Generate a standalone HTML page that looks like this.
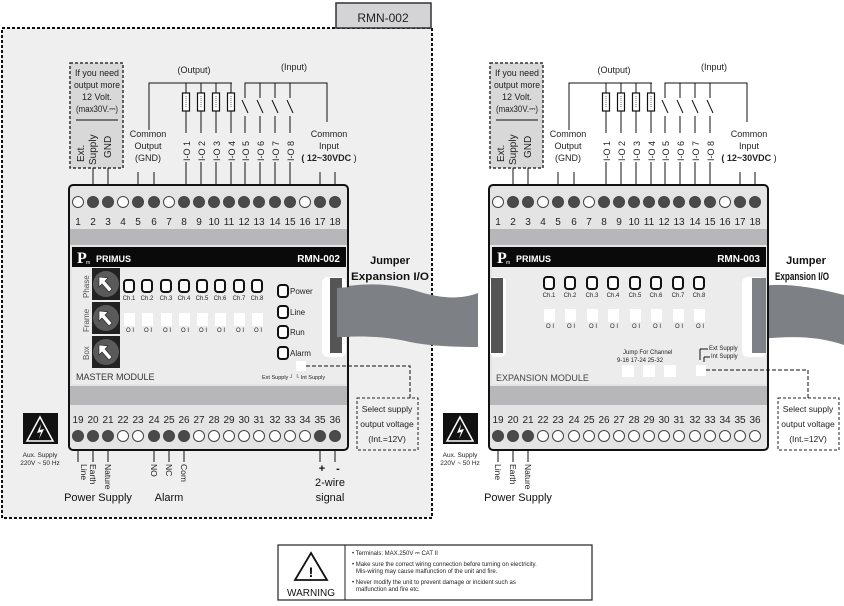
<!DOCTYPE html>
<html><head><meta charset="utf-8"><style>
html,body{margin:0;padding:0;background:#fff;}
svg{display:block;font-family:"Liberation Sans",Arial,sans-serif;}
</style></head><body>
<svg width="844" height="606" viewBox="0 0 844 606" xmlns="http://www.w3.org/2000/svg">
<defs>
<g id="knob"><rect x="0" y="0" width="28" height="32" fill="#222"/><circle cx="14" cy="16" r="13" fill="#5a5a5a"/><path d="M7 9 L7 19 L10 16 L17 24 L20 21 L13 13 L16 10 Z" fill="#fff" stroke="#222" stroke-width="0.6"/></g>
<g id="led"><rect x="-5" y="-6" width="10" height="12" rx="3" fill="#fff" stroke="#111" stroke-width="2"/></g>
<g id="sw"><rect x="-5" y="0" width="11" height="13" fill="#fff"/></g>
<g id="res"><rect x="-3.5" y="0" width="7" height="18" fill="#fff" stroke="#111" stroke-width="1.2"/><line x1="0" y1="3" x2="0" y2="15" stroke="#666" stroke-width="1" stroke-dasharray="1,1"/></g>
</defs>

<rect x="2" y="28" width="430" height="490" fill="#efeff0" stroke="#111" stroke-width="2" stroke-dasharray="3,2"/>
<rect x="336" y="3" width="95" height="25" fill="#d4d4d6" stroke="#333" stroke-width="1.5"/>
<text x="383" y="22" font-size="12" text-anchor="middle" fill="#222">RMN-002</text>

<path d="M337 288 C360 283 390 282 420 292 C440 298 460 300 478 293 L478 347 C455 347 430 346 410 342 C385 336 360 336 337 337 Z" fill="#7d8084"/>
<path d="M752 288 C775 282 805 285 844 295 L844 345 C815 335 785 336 752 340 Z" fill="#7d8084"/>

<g font-weight="bold" font-size="11" text-anchor="middle" fill="#111">
<text x="390" y="264">Jumper</text><text x="390" y="280" textLength="78" lengthAdjust="spacingAndGlyphs">Expansion I/O</text>
<text x="806" y="264">Jumper</text><text x="802" y="280" textLength="54" lengthAdjust="spacingAndGlyphs">Expansion I/O</text>
</g>

<g id="modL">
<rect x="70" y="63" width="53" height="105" fill="#d8d8d8" stroke="#333" stroke-width="1.5" stroke-dasharray="3,2"/>
<g font-size="9" text-anchor="middle" fill="#222" lengthAdjust="spacingAndGlyphs"><text x="97" y="76" textLength="44" lengthAdjust="spacingAndGlyphs">If you need</text><text x="97" y="88" textLength="46" lengthAdjust="spacingAndGlyphs">output more</text><text x="97" y="100">12 Volt.</text><text x="97" y="112" textLength="42" lengthAdjust="spacingAndGlyphs">(max30V.⎓)</text></g>
<line x1="76" y1="120" x2="118" y2="120" stroke="#111"/>
<g font-size="10" fill="#222"><text transform="translate(84,162) rotate(-90)">Ext.</text><text transform="translate(96,165) rotate(-90)">Supply</text><text transform="translate(111,158) rotate(-90)">GND</text></g>
<g stroke="#111" stroke-width="1" fill="none">
<path d="M149 130 V83 H232"/><path d="M245 98 V83 H327 V122"/>
<line x1="93" y1="168" x2="93" y2="185"/><line x1="108" y1="168" x2="108" y2="185"/>
<line x1="138" y1="172" x2="138" y2="185"/><line x1="154" y1="172" x2="154" y2="185"/>
<line x1="320" y1="172" x2="320" y2="185"/><line x1="335" y1="172" x2="335" y2="185"/>
<path d="M186 83V93 M186 111V133 M201 83V93 M201 111V133 M216 83V93 M216 111V133 M231 83V93 M231 111V133"/>
<path d="M260 83V98 M275 83V98 M290 83V98"/>
<path d="M242 100 L248 113 M257 100 L263 113 M272 100 L278 113 M287 100 L293 113"/>
<path d="M245 116V133 M260 116V133 M275 116V133 M290 116V133"/>
<path d="M186 162V185 M201 162V185 M216 162V185 M231 162V185 M245 162V185 M260 162V185 M275 162V185 M290 162V185"/>
</g>
<use href="#res" x="186" y="93"/><use href="#res" x="201" y="93"/><use href="#res" x="216" y="93"/><use href="#res" x="231" y="93"/>
<g font-size="9" fill="#222" text-anchor="middle"><text x="194" y="73">(Output)</text><text x="294" y="70">(Input)</text>
<text x="148" y="137">Common</text><text x="148" y="149">Output</text><text x="148" y="161">(GND)</text>
<text x="329" y="137">Common</text><text x="329" y="149">Input</text><text x="329" y="161"><tspan font-weight="bold">( 12~30VDC</tspan> )</text></g>
<g font-size="9" fill="#222">
<text transform="translate(190,161) rotate(-90)">I-O 1</text><text transform="translate(205,161) rotate(-90)">I-O 2</text><text transform="translate(220,161) rotate(-90)">I-O 3</text><text transform="translate(235,161) rotate(-90)">I-O 4</text>
<text transform="translate(249,161) rotate(-90)">I-O 5</text><text transform="translate(264,161) rotate(-90)">I-O 6</text><text transform="translate(279,161) rotate(-90)">I-O 7</text><text transform="translate(294,161) rotate(-90)">I-O 8</text></g>
</g>

<rect x="69" y="185" width="279" height="265" rx="4" fill="#e4e4e4" stroke="#111" stroke-width="2"/>
<rect x="70" y="229" width="277" height="16" fill="#b7b7b9"/>
<rect x="70" y="386" width="277" height="19" fill="#b7b7b9"/>
<rect x="72" y="247" width="274" height="20" fill="#0a0a0a"/>
<rect x="72" y="267" width="274" height="117" fill="#ececed"/>
<text x="77" y="263" font-family="Liberation Serif,serif" font-size="16" fill="#fff" font-weight="bold">P</text><text x="86" y="264" font-size="5" fill="#fff">m</text>
<text x="96" y="262" font-size="9" fill="#fff" font-weight="bold">PRIMUS</text>
<text x="340" y="262" font-size="10" fill="#fff" font-weight="bold" text-anchor="end">RMN-002</text>

<rect x="489" y="185" width="279" height="265" rx="4" fill="#e4e4e4" stroke="#111" stroke-width="2"/>
<rect x="490" y="229" width="277" height="16" fill="#b7b7b9"/>
<rect x="490" y="386" width="277" height="19" fill="#b7b7b9"/>
<rect x="492" y="247" width="274" height="20" fill="#0a0a0a"/>
<rect x="492" y="267" width="274" height="117" fill="#ececed"/>
<text x="497" y="263" font-family="Liberation Serif,serif" font-size="16" fill="#fff" font-weight="bold">P</text><text x="506" y="264" font-size="5" fill="#fff">m</text>
<text x="516" y="262" font-size="9" fill="#fff" font-weight="bold">PRIMUS</text>
<text x="760" y="262" font-size="10" fill="#fff" font-weight="bold" text-anchor="end">RMN-003</text>

<use href="#modL" x="420" y="0"/>

<rect x="322" y="277" width="24" height="80" rx="6" fill="#fff"/><rect x="330" y="278" width="12" height="75" fill="#555"/>
<rect x="490" y="277" width="16" height="80" rx="5" fill="#fff"/><rect x="491" y="278" width="12" height="75" fill="#555"/>
<rect x="742" y="277" width="24" height="80" rx="6" fill="#fff"/><rect x="752" y="278" width="14" height="75" fill="#7d8084"/>
<path d="M337 288 L350 287 L350 337 L337 337 Z" fill="#7d8084"/>

<g stroke="#444" stroke-width="1" fill="#4a4a4a">
<g id="topT">
<circle cx="78" cy="202" r="5.5" fill="#fff"/><circle cx="93" cy="202" r="5.5"/><circle cx="108" cy="202" r="5.5"/><circle cx="123" cy="202" r="5.5" fill="#fff"/><circle cx="138" cy="202" r="5.5"/><circle cx="154" cy="202" r="5.5"/><circle cx="169" cy="202" r="5.5" fill="#fff"/><circle cx="184" cy="202" r="5.5"/><circle cx="199" cy="202" r="5.5"/><circle cx="214" cy="202" r="5.5"/><circle cx="229" cy="202" r="5.5"/><circle cx="244" cy="202" r="5.5"/><circle cx="259" cy="202" r="5.5"/><circle cx="275" cy="202" r="5.5"/><circle cx="290" cy="202" r="5.5"/><circle cx="305" cy="202" r="5.5" fill="#fff"/><circle cx="320" cy="202" r="5.5"/><circle cx="335" cy="202" r="5.5"/>
</g>
<use href="#topT" x="420"/>
<circle cx="78" cy="436" r="5.5"/><circle cx="93" cy="436" r="5.5"/><circle cx="108" cy="436" r="5.5"/><circle cx="123" cy="436" r="5.5" fill="#fff"/><circle cx="138" cy="436" r="5.5" fill="#fff"/><circle cx="154" cy="436" r="5.5"/><circle cx="169" cy="436" r="5.5"/><circle cx="184" cy="436" r="5.5"/><circle cx="199" cy="436" r="5.5" fill="#fff"/><circle cx="214" cy="436" r="5.5" fill="#fff"/><circle cx="229" cy="436" r="5.5" fill="#fff"/><circle cx="244" cy="436" r="5.5" fill="#fff"/><circle cx="259" cy="436" r="5.5" fill="#fff"/><circle cx="275" cy="436" r="5.5" fill="#fff"/><circle cx="290" cy="436" r="5.5" fill="#fff"/><circle cx="305" cy="436" r="5.5" fill="#fff"/><circle cx="320" cy="436" r="5.5"/><circle cx="335" cy="436" r="5.5"/>
<circle cx="498" cy="436" r="5.5"/><circle cx="513" cy="436" r="5.5"/><circle cx="528" cy="436" r="5.5"/>
<g fill="#fff"><circle cx="543" cy="436" r="5.5"/><circle cx="558" cy="436" r="5.5"/><circle cx="574" cy="436" r="5.5"/><circle cx="589" cy="436" r="5.5"/><circle cx="604" cy="436" r="5.5"/><circle cx="619" cy="436" r="5.5"/><circle cx="634" cy="436" r="5.5"/><circle cx="649" cy="436" r="5.5"/><circle cx="664" cy="436" r="5.5"/><circle cx="679" cy="436" r="5.5"/><circle cx="695" cy="436" r="5.5"/><circle cx="710" cy="436" r="5.5"/><circle cx="725" cy="436" r="5.5"/><circle cx="740" cy="436" r="5.5"/><circle cx="755" cy="436" r="5.5"/></g>
</g>
<g font-size="10" fill="#222" text-anchor="middle">
<text x="78" y="225">1</text><text x="93" y="225">2</text><text x="108" y="225">3</text><text x="123" y="225">4</text><text x="138" y="225">5</text><text x="154" y="225">6</text><text x="169" y="225">7</text><text x="184" y="225">8</text><text x="199" y="225">9</text><text x="214" y="225">10</text><text x="229" y="225">11</text><text x="244" y="225">12</text><text x="259" y="225">13</text><text x="275" y="225">14</text><text x="290" y="225">15</text><text x="305" y="225">16</text><text x="320" y="225">17</text><text x="335" y="225">18</text>
<text x="78" y="423">19</text><text x="93" y="423">20</text><text x="108" y="423">21</text><text x="123" y="423">22</text><text x="138" y="423">23</text><text x="154" y="423">24</text><text x="169" y="423">25</text><text x="184" y="423">26</text><text x="199" y="423">27</text><text x="214" y="423">28</text><text x="229" y="423">29</text><text x="244" y="423">30</text><text x="259" y="423">31</text><text x="275" y="423">32</text><text x="290" y="423">33</text><text x="305" y="423">34</text><text x="320" y="423">35</text><text x="335" y="423">36</text>
<text x="498" y="225">1</text><text x="513" y="225">2</text><text x="528" y="225">3</text><text x="543" y="225">4</text><text x="558" y="225">5</text><text x="574" y="225">6</text><text x="589" y="225">7</text><text x="604" y="225">8</text><text x="619" y="225">9</text><text x="634" y="225">10</text><text x="649" y="225">11</text><text x="664" y="225">12</text><text x="679" y="225">13</text><text x="695" y="225">14</text><text x="710" y="225">15</text><text x="725" y="225">16</text><text x="740" y="225">17</text><text x="755" y="225">18</text>
<text x="498" y="423">19</text><text x="513" y="423">20</text><text x="528" y="423">21</text><text x="543" y="423">22</text><text x="558" y="423">23</text><text x="574" y="423">24</text><text x="589" y="423">25</text><text x="604" y="423">26</text><text x="619" y="423">27</text><text x="634" y="423">28</text><text x="649" y="423">29</text><text x="664" y="423">30</text><text x="679" y="423">31</text><text x="695" y="423">32</text><text x="710" y="423">33</text><text x="725" y="423">34</text><text x="740" y="423">35</text><text x="755" y="423">36</text>
</g>

<use href="#knob" x="92" y="268"/><use href="#knob" x="92" y="302"/><use href="#knob" x="92" y="336"/>
<g font-size="8" fill="#555"><text transform="translate(89,298) rotate(-90)">Phase</text><text transform="translate(89,332) rotate(-90)">Frame</text><text transform="translate(89,360) rotate(-90)">Box</text></g>
<use href="#led" x="129" y="286"/><use href="#led" x="147" y="286"/><use href="#led" x="166" y="286"/><use href="#led" x="184" y="286"/><use href="#led" x="202" y="286"/><use href="#led" x="220" y="286"/><use href="#led" x="239" y="286"/><use href="#led" x="257" y="286"/>
<use href="#sw" x="129" y="313"/><use href="#sw" x="147" y="313"/><use href="#sw" x="166" y="313"/><use href="#sw" x="184" y="313"/><use href="#sw" x="202" y="313"/><use href="#sw" x="220" y="313"/><use href="#sw" x="239" y="313"/><use href="#sw" x="257" y="313"/>
<g font-size="6" fill="#222" text-anchor="middle">
<text x="129" y="300">Ch.1</text><text x="147" y="300">Ch.2</text><text x="166" y="300">Ch.3</text><text x="184" y="300">Ch.4</text><text x="202" y="300">Ch.5</text><text x="220" y="300">Ch.6</text><text x="239" y="300">Ch.7</text><text x="257" y="300">Ch.8</text>
<text x="130" y="332">O I</text><text x="148" y="332">O I</text><text x="167" y="332">O I</text><text x="185" y="332">O I</text><text x="203" y="332">O I</text><text x="221" y="332">O I</text><text x="240" y="332">O I</text><text x="258" y="332">O I</text>
</g>
<use href="#led" x="283" y="291"/><use href="#led" x="283" y="312"/><use href="#led" x="283" y="332"/><use href="#led" x="283" y="353"/>
<g font-size="8" fill="#222"><text x="290" y="294">Power</text><text x="290" y="315">Line</text><text x="290" y="335">Run</text><text x="290" y="356">Alarm</text></g>
<text x="76" y="380" font-size="9" fill="#333">MASTER MODULE</text>
<text x="262" y="379" font-size="5.5" fill="#222">Ext Supply ┘  └ Int Supply</text>
<rect x="296" y="361" width="10" height="10" fill="#fff"/>
<path d="M306 366 H410 V398" stroke="#111" fill="none" stroke-dasharray="4,2"/>
<rect x="357" y="398" width="61" height="52" fill="#efeff0" stroke="#222" stroke-dasharray="3,2"/>
<g font-size="8.5" fill="#222" text-anchor="middle"><text x="387" y="412">Select supply</text><text x="387" y="427">output voltage</text><text x="387" y="442">(Int.=12V)</text></g>

<g font-size="6" fill="#222" text-anchor="middle">
<text x="549" y="297">Ch.1</text><text x="570" y="297">Ch.2</text><text x="592" y="297">Ch.3</text><text x="613" y="297">Ch.4</text><text x="635" y="297">Ch.5</text><text x="656" y="297">Ch.6</text><text x="678" y="297">Ch.7</text><text x="699" y="297">Ch.8</text>
<text x="550" y="328">O I</text><text x="571" y="328">O I</text><text x="593" y="328">O I</text><text x="614" y="328">O I</text><text x="636" y="328">O I</text><text x="657" y="328">O I</text><text x="679" y="328">O I</text><text x="700" y="328">O I</text>
</g>
<use href="#led" x="549" y="283"/><use href="#led" x="570" y="283"/><use href="#led" x="592" y="283"/><use href="#led" x="613" y="283"/><use href="#led" x="635" y="283"/><use href="#led" x="656" y="283"/><use href="#led" x="678" y="283"/><use href="#led" x="699" y="283"/>
<use href="#sw" x="549" y="309"/><use href="#sw" x="570" y="309"/><use href="#sw" x="592" y="309"/><use href="#sw" x="613" y="309"/><use href="#sw" x="635" y="309"/><use href="#sw" x="656" y="309"/><use href="#sw" x="678" y="309"/><use href="#sw" x="699" y="309"/>
<g font-size="6" fill="#222"><text x="623" y="354">Jump For Channel</text><text x="617" y="362">9-16  17-24  25-32</text><text x="709" y="350">Ext Supply</text><text x="711" y="358">Int Supply</text></g>
<path d="M700 349 H708 M700 349 V360 M704 357 H710 M704 357 V362" stroke="#111" fill="none"/>
<rect x="622" y="365" width="12" height="12" fill="#fff"/><rect x="643" y="365" width="12" height="12" fill="#fff"/><rect x="664" y="365" width="12" height="12" fill="#fff"/><rect x="696" y="365" width="10" height="11" fill="#fff"/>
<text x="496" y="381" font-size="9" fill="#444">EXPANSION MODULE</text>
<path d="M706 370 H808 V398" stroke="#111" fill="none" stroke-dasharray="4,2"/>
<rect x="778" y="398" width="61" height="52" fill="#fff" stroke="#222" stroke-dasharray="3,2"/>
<g font-size="8.5" fill="#222" text-anchor="middle"><text x="808" y="412">Select supply</text><text x="808" y="427">output voltage</text><text x="808" y="442">(Int.=12V)</text></g>

<g stroke="#111"><path d="M78 450V462 M93 450V462 M108 450V462 M154 450V462 M169 450V462 M184 450V462 M320 450V462 M335 450V462 M498 450V462 M513 450V462 M528 450V462"/></g>
<g font-size="8.5" fill="#222">
<text transform="translate(81,464) rotate(90)">Line</text><text transform="translate(90,464) rotate(90)">Earth</text><text transform="translate(105,464) rotate(90)">Nature</text>
<text transform="translate(151,464) rotate(90)">NO</text><text transform="translate(166,464) rotate(90)">NC</text><text transform="translate(181,464) rotate(90)">Com</text>
<text transform="translate(495,464) rotate(90)">Line</text><text transform="translate(510,464) rotate(90)">Earth</text><text transform="translate(525,464) rotate(90)">Nature</text>
</g>
<g font-size="11" fill="#111" text-anchor="middle"><text x="98" y="501">Power Supply</text><text x="169" y="501">Alarm</text><text x="518" y="501">Power Supply</text>
<text x="322" y="472" font-weight="bold">+</text><text x="338" y="472" font-weight="bold">-</text><text x="330" y="486">2-wire</text><text x="330" y="501">signal</text></g>
<g id="aux"><rect x="23" y="413" width="35" height="31" fill="#111"/><path d="M40 417 L53 441 L27 441 Z" fill="none" stroke="#fff" stroke-width="1.5"/><path d="M41 424 L37 433 L41 432 L39 439 L44 429 L40 430 Z" fill="#fff"/></g>
<g font-size="6.5" fill="#222" text-anchor="middle"><text x="40" y="457">Aux. Supply</text><text x="40" y="465">220V ~ 50 Hz</text></g>
<use href="#aux" x="420"/>
<g font-size="6.5" fill="#222" text-anchor="middle"><text x="460" y="457">Aux. Supply</text><text x="460" y="465">220V ~ 50 Hz</text></g>

<rect x="278" y="545" width="314" height="55" fill="#fff" stroke="#222" stroke-width="1.2"/>
<line x1="345" y1="545" x2="345" y2="600" stroke="#222"/>
<path d="M311 553 L327 580 L295 580 Z" fill="none" stroke="#111" stroke-width="1.8"/>
<text x="311" y="577" font-size="14" font-weight="bold" text-anchor="middle">!</text>
<text x="311" y="596" font-size="10" text-anchor="middle" fill="#111">WARNING</text>
<g font-size="6" fill="#222"><text x="352" y="555">•  Terminals: MAX.250V ⎓  CAT II</text>
<text x="352" y="566">•  Make sure the correct wiring connection before turning on electricity.</text><text x="356" y="573">Mis-wiring may cause malfunction of the unit and fire.</text>
<text x="352" y="584">•  Never modify the unit to prevent damage or incident such as</text><text x="356" y="591">malfunction and fire etc.</text></g>
</svg>
</body></html>
